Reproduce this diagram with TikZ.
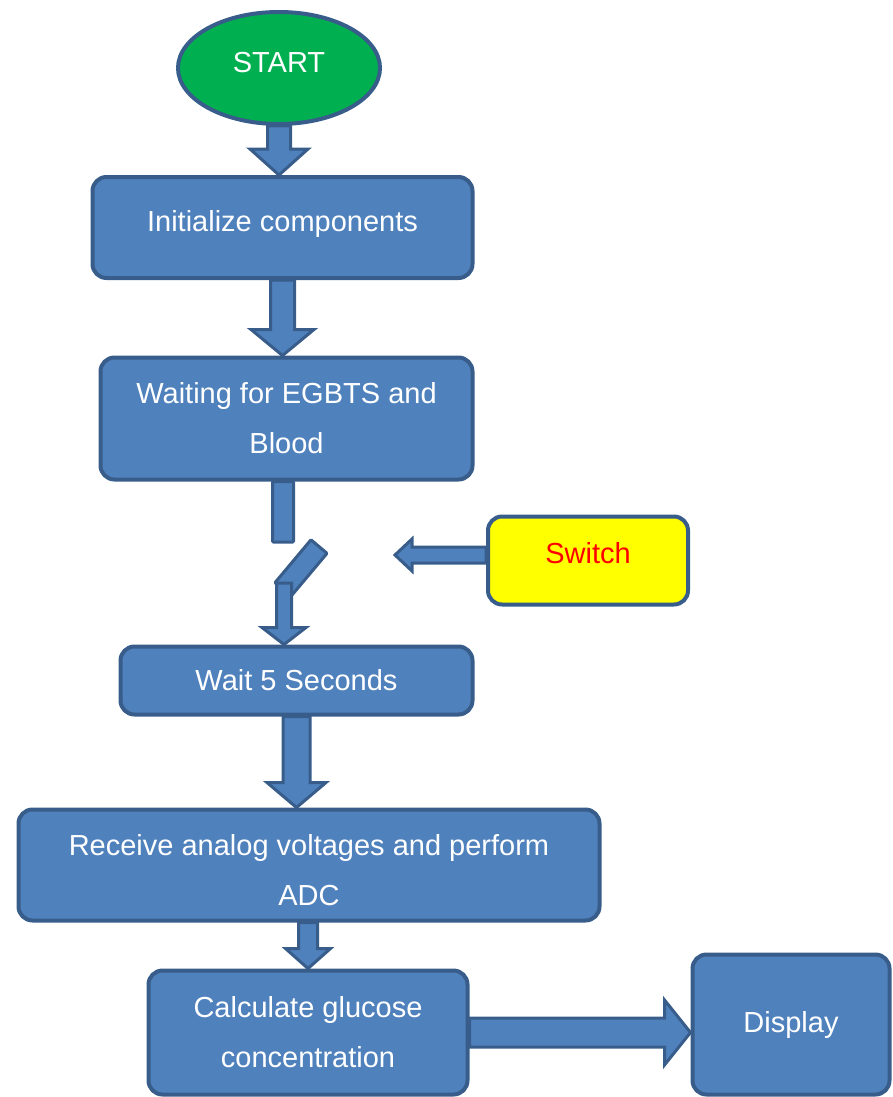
\documentclass[tikz,border=0pt]{standalone}
\usepackage{fontspec}
\setmainfont{Liberation Sans}
\usepackage{tikz}
\usetikzlibrary{calc, shapes.geometric}

\definecolor{boxblue}{HTML}{4F81BD}
\definecolor{edgeblue}{HTML}{385D8A}
\definecolor{startgreen}{HTML}{00B050}
\definecolor{switchyellow}{HTML}{FFFF00}
\definecolor{switchred}{HTML}{FF0000}

% tail, tip, shaft half width, head half width, head length
\newcommand{\blockarrow}[5]{%
    \draw[blockarr] let \p1=(#1), \p2=(#2),
        \n1={atan2(\y2-\y1,\x2-\x1)}, \n2={veclen(\x2-\x1,\y2-\y1)} in
        [shift={(\p1)}, rotate=\n1]
        (0pt,-#3) -- (\n2-#5,-#3) -- (\n2-#5,-#4) -- (\n2,0pt)
        -- (\n2-#5,#4) -- (\n2-#5,#3) -- (0pt,#3) -- cycle;
}

\begin{document}
\begin{tikzpicture}[x=1pt, y=-1pt,
        box/.style={draw=edgeblue, fill=boxblue, line width=4pt, rounded corners=14pt,
            text=white, align=center, inner sep=0pt, font=\fontsize{29}{50}\selectfont},
        blockarr/.style={draw=edgeblue, fill=boxblue, line width=3pt, line join=miter}]
        \useasboundingbox (0,0) rectangle (893,1097);

        \node[box, ellipse, rounded corners=0pt, fill=startgreen, text depth=12pt, minimum width=202pt, minimum height=112pt] (start) at (279, 68) {START};
        \node[box, text depth=14pt, minimum width=380pt, minimum height=101pt] (init) at (282.5, 227.5) {Initialize components};
        \node[box, minimum width=372pt, minimum height=122pt] (wait) at (286.5, 418.5) {Waiting for EGBTS and\\Blood};
        \node[box, fill=switchyellow, text=switchred, text depth=16pt, minimum width=200pt, minimum height=88pt] (switch) at (588, 560.5) {Switch};
        \node[box, minimum width=352pt, minimum height=68pt] (five) at (296.5, 680.5) {Wait 5 Seconds};
        \node[box, text height=81pt, minimum width=581pt, minimum height=111pt] (adc) at (309, 865) {Receive analog voltages and perform\\ADC};
        \node[box, minimum width=319pt, minimum height=124pt] (glucose) at (308, 1032.5) {Calculate glucose\\concentration};
        \node[box, minimum width=197pt, minimum height=140pt] (display) at (791, 1024.5) {Display};

        \blockarrow{start.south}{start.south |- init.north}{11.5pt}{29pt}{26pt}
        \blockarrow{init.south}{init.south |- wait.north}{12pt}{31.5pt}{26pt}

        % switch contact
        \coordinate (gap) at (283, 542);
        \coordinate (lower) at (284, 583);
        \coordinate (swtip) at (395, 555);
        \draw[blockarr, rounded corners=1pt] ([xshift=-10.5pt]wait.south -| gap) rectangle ([xshift=10.5pt]gap);
        \node[blockarr, rectangle, rounded corners=1pt, inner sep=0pt, minimum width=56pt, minimum height=21pt, rotate=50] (lever) at (301, 568) {};
        \blockarrow{lower}{lower |- five.north}{7.5pt}{22pt}{17pt}
        \blockarrow{switch.west |- swtip}{swtip}{8pt}{16pt}{17pt}

        \blockarrow{five.south}{five.south |- adc.north}{13.5pt}{29.5pt}{25pt}
        \blockarrow{glucose.north |- adc.south}{glucose.north}{9.5pt}{22.5pt}{20pt}
        \blockarrow{glucose.east}{display.west |- glucose.east}{14.5pt}{32.5pt}{26pt}

    \end{tikzpicture}
\end{document}
